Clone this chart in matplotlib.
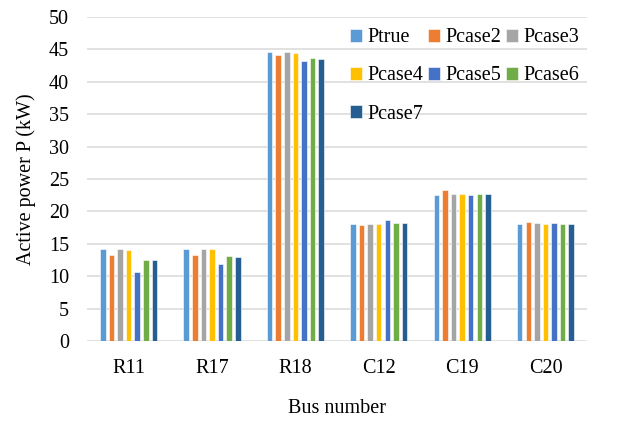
import matplotlib
matplotlib.use("Agg")
import matplotlib.pyplot as plt
import numpy as np

buses = ["R11", "R17", "R18", "C12", "C19", "C20"]
series_names = ["Ptrue", "Pcase2", "Pcase3", "Pcase4", "Pcase5", "Pcase6", "Pcase7"]
ptrue = [14.15, 14.15, 44.6, 18.0, 22.5, 18.0]
pcase2 = [13.2, 13.3, 44.1, 17.9, 23.3, 18.3]
pcase3 = [14.15, 14.15, 44.6, 18.05, 22.7, 18.2]
pcase4 = [14.05, 14.15, 44.5, 18.0, 22.7, 18.1]
pcase5 = [10.65, 11.95, 43.2, 18.65, 22.5, 18.2]
pcase6 = [12.5, 13.05, 43.7, 18.2, 22.7, 18.1]
pcase7 = [12.5, 12.95, 43.5, 18.2, 22.7, 18.1]
yticks = [0, 5, 10, 15, 20, 25, 30, 35, 40, 45, 50]

colors = ["#5B9BD5", "#ED7D31", "#A5A5A5", "#FFC000", "#4472C4", "#70AD47", "#255E91"]
series = [ptrue, pcase2, pcase3, pcase4, pcase5, pcase6, pcase7]

plt.rcParams["font.family"] = ["Liberation Serif", "DejaVu Serif"]

fig = plt.figure(figsize=(6.3, 4.21), dpi=100)
ax = fig.add_axes([0.138, 0.19, 0.794, 0.7696])

x = np.arange(len(buses))
pitch = 0.103
width = 0.066
handles = []
for i, (vals, c, name) in enumerate(zip(series, colors, series_names)):
    offs = (i - 3) * pitch
    h = ax.bar(x + offs, vals, width=width, color=c, label=name,
               edgecolor="white", linewidth=0.4, zorder=3)
    handles.append(h)

ax.set_xlim(-0.5, len(buses) - 0.5)
ax.set_ylim(0, 50)
ax.set_yticks(yticks)
ax.set_xticks(x)
ax.set_xticklabels(buses)
ax.tick_params(axis="both", length=0, labelsize=14.5, colors="#000000")
ax.tick_params(axis="x", pad=13)
ax.tick_params(axis="y", pad=13)
ax.yaxis.grid(True, color="#D9D9D9", linewidth=1.1, zorder=0)
for s in ax.spines.values():
    s.set_visible(False)

ax.set_xlabel("Bus number", fontsize=14.5, labelpad=15)
ax.set_ylabel("Active power P (kW)", fontsize=14.5, labelpad=9)

# legend filled row by row: 3 columns
order = [0, 3, 6, 1, 4, 2, 5]
leg = ax.legend([handles[k] for k in order], [series_names[k] for k in order],
                ncol=3, loc="upper left", bbox_to_anchor=(0.526, 0.965),
                frameon=False, fontsize=14.5, handlelength=0.6, handleheight=0.6,
                handletextpad=0.25, columnspacing=0.25, labelspacing=0.95,
                borderaxespad=0.0, borderpad=0.0)

fig.savefig("out.png", dpi=100)
